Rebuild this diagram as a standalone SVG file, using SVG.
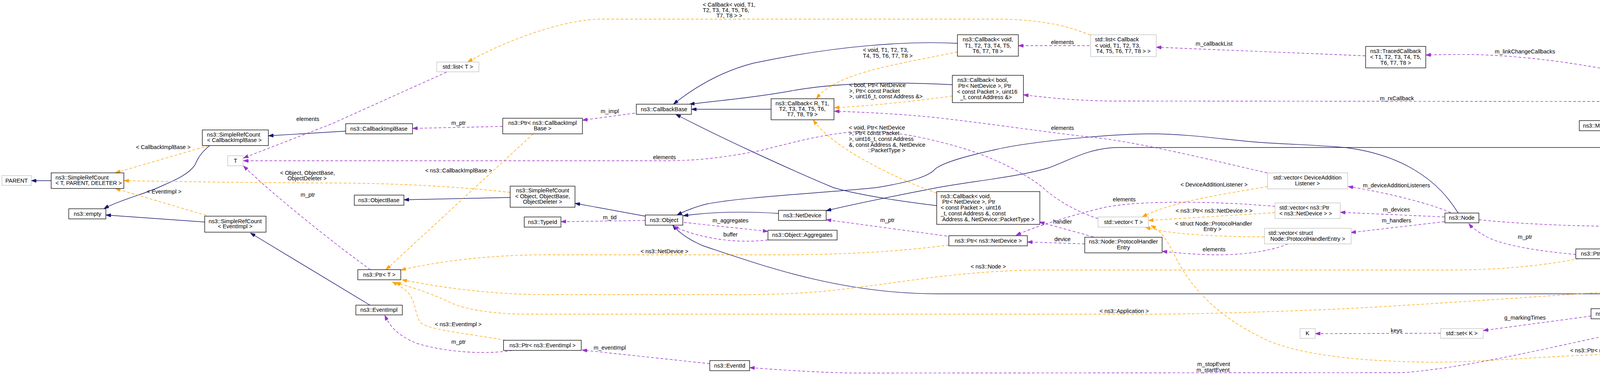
<svg xmlns="http://www.w3.org/2000/svg" width="5088" height="961" viewBox="0 0 5088 961">
<style>
.b{fill:#fff;stroke:#000;stroke-width:1.3}
.g{fill:#fff;stroke:#bfbfbf;stroke-width:1.3}
.f{fill:#bfbfbf;stroke:#000;stroke-width:1.3}
.t{font-family:"Liberation Sans",Arial,sans-serif;font-size:14.4px;fill:#000}
.c{text-anchor:middle}
.inh{fill:none;stroke:#191970;stroke-width:1.4;marker-end:url(#an)}
.use{fill:none;stroke:#9a32cd;stroke-width:1.4;stroke-dasharray:7,5;marker-end:url(#ap)}
.tpl{fill:none;stroke:#ffa500;stroke-width:1.4;stroke-dasharray:7,5;marker-end:url(#ao)}
</style>
<defs>
<marker id="an" viewBox="0 0 13 9" refX="13" refY="4.5" markerWidth="13" markerHeight="9" markerUnits="userSpaceOnUse" orient="auto"><path d="M0,0 L13,4.5 L0,9 z" fill="#191970" stroke="#191970" stroke-dasharray="none"/></marker>
<marker id="ap" viewBox="0 0 13 9" refX="13" refY="4.5" markerWidth="13" markerHeight="9" markerUnits="userSpaceOnUse" orient="auto"><path d="M0,0 L13,4.5 L0,9 z" fill="#9a32cd" stroke="#9a32cd" stroke-dasharray="none"/></marker>
<marker id="ao" viewBox="0 0 13 9" refX="13" refY="4.5" markerWidth="13" markerHeight="9" markerUnits="userSpaceOnUse" orient="auto"><path d="M0,0 L13,4.5 L0,9 z" fill="#ffa500" stroke="#ffa500" stroke-dasharray="none"/></marker>
</defs>
<rect width="5088" height="961" fill="#fff"/>
<g id="connectors">
<path class="inh" d="M131,463 L80,463"/>
<path class="inh" d="M537,373 C510,395 505,410 499,423 C480,450 440,465 404,481 C370,497 300,515 266,535"/>
<path class="inh" d="M885,336 L687,348"/>
<path class="inh" d="M524,569 L271,551"/>
<path class="inh" d="M947,782 L641,597"/>
<path class="inh" d="M1306,506 L1034,512"/>
<path class="inh" d="M1652,554 L1472,521"/>
<path class="inh" d="M1974,280 L1770,280"/>
<path class="inh" d="M2451,111 C2330,105 2150,115 1928,162 C1840,185 1770,230 1724,267"/>
<path class="inh" d="M2438,217 C2300,210 2150,210 2025,233 C1930,250 1840,258 1765,267"/>
<path class="inh" d="M2398,527 C2300,515 2200,500 2134,481 C2000,425 1830,345 1730,293"/>
<path class="inh" d="M1993,547 C1900,541 1820,543 1749,553"/>
<path class="inh" d="M4386,335 C4330,360 4220,378 4121,378 L2864,378 C2790,378 2740,410 2685,430 C2600,455 2480,465 2394,482 C2300,500 2200,520 2115,540"/>
<path class="inh" d="M3733,546 C3710,510 3680,470 3617,433 C3560,400 3500,385 3443,378 C3380,372 3300,370 3227,365 C3150,360 3050,343 2946,343 C2860,343 2650,360 2550,383 C2450,405 2410,420 2394,433 C2380,450 2340,465 2242,481 C2100,495 1900,505 1808,523 C1780,530 1755,540 1733,551"/>
<path class="inh" d="M4367,753 L2400,753 C2150,753 1950,680 1800,630 C1765,615 1740,598 1722,577"/>
<path class="tpl" d="M534,373 L295,443"/>
<path class="tpl" d="M528,552 L295,483"/>
<path class="tpl" d="M1306,493 Q1100,470 850,469 T317,463"/>
<path class="tpl" d="M1365,343 L988,691"/>
<path class="tpl" d="M2429,628 C2300,645 2150,653 2000,653 L1400,653 C1250,653 1120,670 1026,692"/>
<path class="tpl" d="M4042,663 C3950,680 3850,692 3700,692 L2650,692 C2450,695 2300,725 2188,737 C2100,750 2000,755 1900,755 L1400,755 C1250,755 1120,735 1029,717"/>
<path class="tpl" d="M4592,720 C4400,725 3700,780 3400,793 C3200,801 3050,805 2950,805 L1350,805 C1250,805 1180,790 1148,773 C1100,750 1050,735 1013,724"/>
<path class="tpl" d="M1294,872 C1200,855 1090,845 1075,825 C1062,800 1062,770 1045,750 C1030,735 1015,728 1004,722"/>
<path class="tpl" d="M2791,90 C2720,60 2640,49 2550,49 L1538,49 C1450,49 1300,100 1197,159"/>
<path class="tpl" d="M2451,133 C2300,165 2140,185 2090,253"/>
<path class="tpl" d="M2438,246 C2350,258 2250,270 2136,276"/>
<path class="tpl" d="M2398,495 C2300,460 2130,380 2082,307"/>
<path class="tpl" d="M3245,478 C3150,495 3000,515 2924,556"/>
<path class="tpl" d="M3264,545 L2940,565"/>
<path class="tpl" d="M3237,607 C3100,606 2990,600 2932,582"/>
<path class="tpl" d="M4978,741 C4930,820 4820,906 4710,906 L4250,906 C4000,906 3800,930 3650,928 C3450,925 3300,905 3220,860 C3120,810 3050,740 3010,660 C2990,620 2975,592 2946,578"/>
<path class="use" d="M1143,185 L850,317 L623,405"/>
<path class="use" d="M2811,560 C2760,545 2700,510 2669,480 C2620,440 2530,400 2475,383 C2400,360 2300,335 2215,337 C2130,338 2050,360 1950,385 C1850,405 1780,412 1700,412 L623,412"/>
<path class="use" d="M3244,443 C3100,410 2900,360 2778,350 C2650,335 2450,305 2350,297 C2280,291 2200,287 2136,285"/>
<path class="use" d="M1286,324 L1056,329"/>
<path class="use" d="M1625,290 L1491,308"/>
<path class="use" d="M948,691 C850,620 700,500 623,425"/>
<path class="use" d="M1651,565 L1436,568"/>
<path class="use" d="M1751,570 L1966,593"/>
<path class="use" d="M1966,615 C1880,625 1790,610 1724,580"/>
<path class="use" d="M2424,605 L2115,563"/>
<path class="use" d="M1311,898 C1250,908 1150,905 1067,880 C1020,860 1000,840 985,808"/>
<path class="use" d="M1817,932 L1490,897"/>
<path class="use" d="M4408,767 C4370,810 4300,830 4250,835 C4100,855 3800,940 3590,955 L2188,956 C2100,955 2000,948 1919,942"/>
<path class="use" d="M4412,767 C4395,795 4320,811 4240,811 L4160,810"/>
<path class="use" d="M4073,810 L3797,847"/>
<path class="use" d="M3688,854 L3367,855"/>
<path class="use" d="M4592,733 L4494,745"/>
<path class="use" d="M4912,720 L4797,720"/>
<path class="use" d="M3786,563 C3900,575 4050,581 4250,581 L4700,581 C4800,585 4920,630 4970,698"/>
<path class="use" d="M4391,741 L4164,665"/>
<path class="use" d="M4416,335 L4134,637"/>
<path class="use" d="M4034,652 C3950,645 3850,630 3806,607 C3785,595 3770,585 3760,573"/>
<path class="use" d="M3698,556 L3431,544"/>
<path class="use" d="M3698,568 L3458,596"/>
<path class="use" d="M3714,545 C3670,525 3560,495 3451,478"/>
<path class="use" d="M3297,625 C3250,645 3180,653 3119,653 C3070,653 3010,648 2975,644"/>
<path class="use" d="M2777,625 L2630,620"/>
<path class="use" d="M2799,607 L2661,569"/>
<path class="use" d="M3264,529 C3150,518 2920,510 2821,533 C2750,550 2650,580 2601,603"/>
<path class="use" d="M2789,117 L2607,117"/>
<path class="use" d="M3495,143 L2960,121"/>
<path class="use" d="M4418,309 C4390,255 4330,225 4250,208 C4120,175 3950,145 3779,140 C3730,139 3690,140 3650,141"/>
<path class="use" d="M4389,308 C4350,290 4300,280 4250,274 C4200,265 4150,260 4100,260 L2850,259 C2750,258 2680,250 2620,243"/>
<path class="use" d="M4356,322 L4190,322"/>
</g>
<g id="edge-labels" class="t">
<text x="788" y="310" class="c">elements</text>
<text x="418" y="382" class="c">&lt; CallbackImplBase &gt;</text>
<text x="717" y="448">&lt; Object, ObjectBase,</text>
<text x="736" y="462">ObjectDeleter &gt;</text>
<text x="420" y="496" class="c">&lt; EventImpl &gt;</text>
<text x="788" y="504" class="c">m_ptr</text>
<text x="1174" y="320" class="c">m_ptr</text>
<text x="1561" y="290" class="c">m_impl</text>
<text x="1701" y="408" class="c">elements</text>
<text x="1174" y="442" class="c">&lt; ns3::CallbackImplBase &gt;</text>
<text x="1561" y="562" class="c">m_tid</text>
<text x="1701" y="649" class="c">&lt; ns3::NetDevice &gt;</text>
<text x="1173" y="836" class="c">&lt; ns3::EventImpl &gt;</text>
<text x="1174" y="881" class="c">m_ptr</text>
<text x="1561" y="896" class="c">m_eventImpl</text>
<text x="1799" y="17">&lt; Callback&lt; void, T1,</text>
<text x="1799" y="31">T2, T3, T4, T5, T6,</text>
<text x="1834" y="45">T7, T8 &gt; &gt;</text>
<text x="2209" y="133">&lt; void, T1, T2, T3,</text>
<text x="2209" y="148">T4, T5, T6, T7, T8 &gt;</text>
<text x="2174" y="223">&lt; bool, Ptr&lt; NetDevice</text>
<text x="2174" y="238">&gt;, Ptr&lt; const Packet</text>
<text x="2174" y="252">&gt;, uint16_t, const Address &amp;&gt;</text>
<text x="2173" y="332">&lt; void, Ptr&lt; NetDevice</text>
<text x="2173" y="346">&gt;, Ptr&lt; const Packet</text>
<text x="2173" y="361">&gt;, uint16_t, const Address</text>
<text x="2173" y="376">&amp;, const Address &amp;, NetDevice</text>
<text x="2222" y="390">::PacketType &gt;</text>
<text x="1870" y="570" class="c">m_aggregates</text>
<text x="1870" y="606" class="c">buffer</text>
<text x="2272" y="569" class="c">m_ptr</text>
<text x="2530" y="688" class="c">&lt; ns3::Node &gt;</text>
<text x="2720" y="113" class="c">elements</text>
<text x="3108" y="117" class="c">m_callbackList</text>
<text x="2720" y="333" class="c">elements</text>
<text x="3108" y="478" class="c">&lt; DeviceAdditionListener &gt;</text>
<text x="2878" y="516" class="c">elements</text>
<text x="3108" y="545" class="c">&lt; ns3::Ptr&lt; ns3::NetDevice &gt; &gt;</text>
<text x="2720" y="573" class="c">handler</text>
<text x="2720" y="618" class="c">device</text>
<text x="3008" y="578">&lt; struct Node::ProtocolHandler</text>
<text x="3081" y="592">Entry &gt;</text>
<text x="3108" y="644" class="c">elements</text>
<text x="2878" y="802" class="c">&lt; ns3::Application &gt;</text>
<text x="3065" y="938">m_stopEvent</text>
<text x="3063" y="953">m_startEvent</text>
<text x="3904" y="137" class="c">m_linkChangeCallbacks</text>
<text x="3576" y="257" class="c">m_rxCallback</text>
<text x="3575" y="480" class="c">m_deviceAdditionListeners</text>
<text x="3575" y="542" class="c">m_devices</text>
<text x="3575" y="570" class="c">m_handlers</text>
<text x="3904" y="612" class="c">m_ptr</text>
<text x="3904" y="819" class="c">g_markingTimes</text>
<text x="3575" y="852" class="c">keys</text>
<text x="4120" y="903" class="c">&lt; ns3::Ptr&lt; ns3::Application &gt; &gt;</text>
<text x="4294" y="319" class="c">m_address</text>
<text x="4295" y="424" class="c">m_node</text>
<text x="4432" y="578" class="c">m_applications</text>
<text x="4295" y="692" class="c">m_node</text>
<text x="4856" y="716" class="c">elements</text>
<text x="4548" y="733" class="c">m_ptr</text>
<text x="4255" y="783">m_stopTime</text>
<text x="4251" y="798">m_startTime</text>
</g>
<g id="n_parent"><rect class="g" x="5" y="450" width="75" height="25"/><text class="t c" x="42.5" y="468">PARENT</text></g>
<g id="n_srcount_tpd"><rect class="b" x="131" y="443" width="186" height="40"/><text class="t" x="142" y="460">ns3::SimpleRefCount</text><text class="t" x="142" y="474">&lt; T, PARENT, DELETER &gt;</text></g>
<g id="n_srcount_cib"><rect class="b" x="518" y="333" width="169" height="40"/><text class="t" x="530" y="350">ns3::SimpleRefCount</text><text class="t" x="530" y="364">&lt; CallbackImplBase &gt;</text></g>
<g id="n_T"><rect class="g" x="583" y="399" width="39" height="26"/><text class="t c" x="603" y="417">T</text></g>
<g id="n_empty"><rect class="b" x="176" y="535" width="95" height="26"/><text class="t c" x="224" y="553">ns3::empty</text></g>
<g id="n_srcount_ei"><rect class="b" x="524" y="554" width="157" height="41"/><text class="t c" x="602" y="572">ns3::SimpleRefCount</text><text class="t c" x="602" y="585">&lt; EventImpl &gt;</text></g>
<g id="n_list_T"><rect class="g" x="1118" y="159" width="108" height="25"/><text class="t c" x="1172" y="176">std::list&lt; T &gt;</text></g>
<g id="n_cbimplbase"><rect class="b" x="885" y="317" width="171" height="26"/><text class="t c" x="970" y="335">ns3::CallbackImplBase</text></g>
<g id="n_ptr_cib"><rect class="b" x="1287" y="303" width="204" height="40"/><text class="t c" x="1389" y="320">ns3::Ptr&lt; ns3::CallbackImpl</text><text class="t c" x="1389" y="334">Base &gt;</text></g>
<g id="n_cbbase"><rect class="b" x="1629" y="267" width="141" height="26"/><text class="t c" x="1700" y="285">ns3::CallbackBase</text></g>
<g id="n_srcount_obj"><rect class="b" x="1306" y="477" width="166" height="54"/><text class="t c" x="1389" y="493">ns3::SimpleRefCount</text><text class="t c" x="1389" y="508">&lt; Object, ObjectBase,</text><text class="t c" x="1389" y="522">ObjectDeleter &gt;</text></g>
<g id="n_objectbase"><rect class="b" x="907" y="500" width="127" height="26"/><text class="t c" x="970" y="518">ns3::ObjectBase</text></g>
<g id="n_typeid"><rect class="b" x="1342" y="556" width="94" height="26"/><text class="t c" x="1389" y="574">ns3::TypeId</text></g>
<g id="n_object"><rect class="b" x="1652" y="551" width="96" height="26"/><text class="t c" x="1700" y="569">ns3::Object</text></g>
<g id="n_ptr_T"><rect class="b" x="916" y="691" width="110" height="26"/><text class="t c" x="971" y="709">ns3::Ptr&lt; T &gt;</text></g>
<g id="n_eventimpl"><rect class="b" x="911" y="782" width="119" height="25"/><text class="t c" x="970" y="799">ns3::EventImpl</text></g>
<g id="n_ptr_ei"><rect class="b" x="1289" y="872" width="199" height="26"/><text class="t c" x="1389" y="890">ns3::Ptr&lt; ns3::EventImpl &gt;</text></g>
<g id="n_cb_R"><rect class="b" x="1974" y="253" width="161" height="54"/><text class="t c" x="2054" y="270">ns3::Callback&lt; R, T1,</text><text class="t c" x="2054" y="284">T2, T3, T4, T5, T6,</text><text class="t c" x="2054" y="298">T7, T8, T9 &gt;</text></g>
<g id="n_cb_void"><rect class="b" x="2451" y="89" width="156" height="55"/><text class="t c" x="2529" y="106">ns3::Callback&lt; void,</text><text class="t c" x="2529" y="122">T1, T2, T3, T4, T5,</text><text class="t c" x="2529" y="136">T6, T7, T8 &gt;</text></g>
<g id="n_cb_bool"><rect class="b" x="2438" y="193" width="182" height="70"/><text class="t" x="2451" y="210">ns3::Callback&lt; bool,</text><text class="t" x="2453" y="225">Ptr&lt; NetDevice &gt;, Ptr</text><text class="t" x="2450" y="240">&lt; const Packet &gt;, uint16</text><text class="t" x="2458" y="254">_t, const Address &amp;&gt;</text></g>
<g id="n_netdevice"><rect class="b" x="1993" y="539" width="122" height="26"/><text class="t c" x="2054" y="557">ns3::NetDevice</text></g>
<g id="n_aggregates"><rect class="b" x="1966" y="590" width="177" height="25"/><text class="t c" x="2054" y="607">ns3::Object::Aggregates</text></g>
<g id="n_cb_handler"><rect class="b" x="2398" y="491" width="264" height="84"/><text class="t" x="2408" y="508">ns3::Callback&lt; void,</text><text class="t" x="2412" y="522">Ptr&lt; NetDevice &gt;, Ptr</text><text class="t" x="2408" y="537">&lt; const Packet &gt;, uint16</text><text class="t" x="2408" y="552">_t, const Address &amp;, const</text><text class="t" x="2412" y="567">Address &amp;, NetDevice::PacketType &gt;</text></g>
<g id="n_ptr_nd"><rect class="b" x="2429" y="604" width="201" height="26"/><text class="t c" x="2530" y="622">ns3::Ptr&lt; ns3::NetDevice &gt;</text></g>
<g id="n_eventid"><rect class="b" x="1817" y="924" width="102" height="26"/><text class="t c" x="1868" y="942">ns3::EventId</text></g>
<g id="n_list_cb"><rect class="g" x="2792" y="89" width="168" height="56"/><text class="t" x="2803" y="106">std::list&lt; Callback</text><text class="t" x="2803" y="122">&lt; void, T1, T2, T3,</text><text class="t" x="2806" y="136">T4, T5, T6, T7, T8 &gt; &gt;</text></g>
<g id="n_vec_dal"><rect class="g" x="3245" y="443" width="205" height="41"/><text class="t c" x="3347" y="460">std::vector&lt; DeviceAddition</text><text class="t c" x="3347" y="475">Listener &gt;</text></g>
<g id="n_vec_T"><rect class="g" x="2811" y="556" width="129" height="26"/><text class="t c" x="2876" y="574">std::vector&lt; T &gt;</text></g>
<g id="n_vec_ptr_nd"><rect class="g" x="3264" y="520" width="167" height="40"/><text class="t" x="3275" y="537">std::vector&lt; ns3::Ptr</text><text class="t" x="3275" y="552">&lt; ns3::NetDevice &gt; &gt;</text></g>
<g id="n_phe"><rect class="b" x="2777" y="608" width="198" height="40"/><text class="t c" x="2876" y="624">ns3::Node::ProtocolHandler</text><text class="t c" x="2876" y="639">Entry</text></g>
<g id="n_vec_phe"><rect class="g" x="3237" y="585" width="222" height="40"/><text class="t" x="3247" y="602">std::vector&lt; struct</text><text class="t" x="3252" y="617">Node::ProtocolHandlerEntry &gt;</text></g>
<g id="n_traced"><rect class="b" x="3496" y="119" width="154" height="55"/><text class="t c" x="3573" y="136">ns3::TracedCallback</text><text class="t c" x="3573" y="151">&lt; T1, T2, T3, T4, T5,</text><text class="t c" x="3573" y="166">T6, T7, T8 &gt;</text></g>
<g id="n_mac64"><rect class="b" x="4043" y="309" width="147" height="26"/><text class="t c" x="4116" y="327">ns3::Mac64Address</text></g>
<g id="n_node"><rect class="b" x="3699" y="546" width="87" height="25"/><text class="t c" x="3742" y="563">ns3::Node</text></g>
<g id="n_ptr_node"><rect class="b" x="4034" y="638" width="166" height="25"/><text class="t c" x="4117" y="655">ns3::Ptr&lt; ns3::Node &gt;</text></g>
<g id="n_time"><rect class="b" x="4073" y="791" width="87" height="26"/><text class="t c" x="4116" y="809">ns3::Time</text></g>
<g id="n_set_K"><rect class="g" x="3688" y="842" width="109" height="25"/><text class="t c" x="3742" y="859">std::set&lt; K &gt;</text></g>
<g id="n_K"><rect class="g" x="3328" y="842" width="39" height="25"/><text class="t c" x="3347" y="859">K</text></g>
<g id="n_ltenetdevice"><rect class="f" x="4359" y="309" width="142" height="26"/><text class="t c" x="4430" y="327">ns3::LteNetDevice</text></g>
<g id="n_ptr_app"><rect class="b" x="4592" y="707" width="205" height="26"/><text class="t c" x="4694" y="725">ns3::Ptr&lt; ns3::Application &gt;</text></g>
<g id="n_application"><rect class="b" x="4367" y="740" width="127" height="26"/><text class="t c" x="4430" y="758">ns3::Application</text></g>
<g id="n_vec_ptr_app"><rect class="g" x="4912" y="699" width="171" height="41"/><text class="t" x="4923" y="716">std::vector&lt; ns3::Ptr</text><text class="t" x="4923" y="732">&lt; ns3::Application &gt; &gt;</text></g>
</svg>
